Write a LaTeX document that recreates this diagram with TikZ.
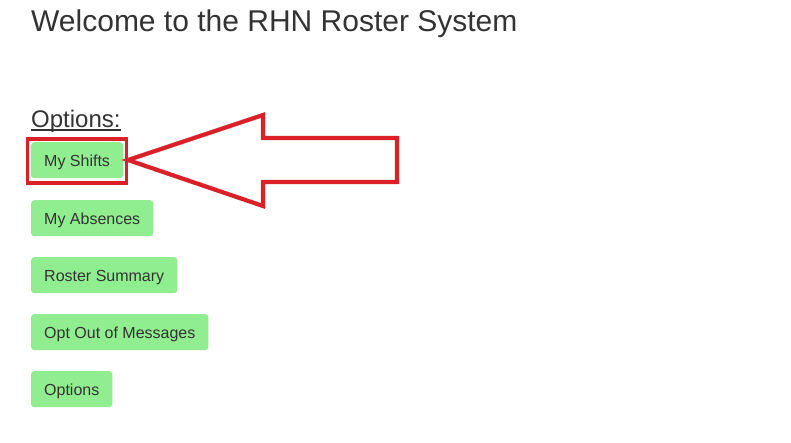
\documentclass[tikz,border=0pt]{standalone}
\usepackage{fontspec}
\setmainfont{Liberation Sans}
\definecolor{txt}{HTML}{333333}
\definecolor{btn}{HTML}{90EE90}
\definecolor{hl}{HTML}{DA2128}
\begin{document}
\begin{tikzpicture}[x=1pt,y=-1pt,
  button/.style={fill=btn, rounded corners=3pt, anchor=north west, inner xsep=13pt, inner ysep=0pt,
    minimum height=36pt, text height=12pt, text depth=0pt, text=txt, font=\fontsize{16}{18}\selectfont},
  redline/.style={draw=hl, line width=4.2pt, line join=miter}]
\useasboundingbox[fill=white] (0,0) rectangle (791,442);
\node[anchor=base west, inner sep=0pt, text=txt, font=\fontsize{30}{34}\selectfont] (title) at (31,31) {Welcome to the RHN Roster System};
\node[anchor=base west, inner sep=0pt, text=txt, font=\fontsize{24}{28}\selectfont] (opts) at (31,127) {Options:};
\draw[txt, line width=1.6pt] ([yshift=-3pt]opts.base west) -- ([yshift=-3pt]opts.base east);
\node[button] (shifts) at (31,142) {My Shifts};
\node[button] (absences) at (31,200) {My Absences};
\node[button] (summary) at (31,257) {Roster Summary};
\node[button] (optout) at (31,314) {Opt Out of Messages};
\node[button] (options) at (31,371) {Options};
\draw[draw=hl, line width=3.2pt] ([xshift=-3.5pt,yshift=3pt]shifts.north west) rectangle ([xshift=3pt,yshift=-4.5pt]shifts.south east);
\draw[redline] (128,160) -- (263,115) -- (263,138) -- (397,138) -- (397,182) -- (263,182) -- (263,206) -- cycle;
\end{tikzpicture}
\end{document}
